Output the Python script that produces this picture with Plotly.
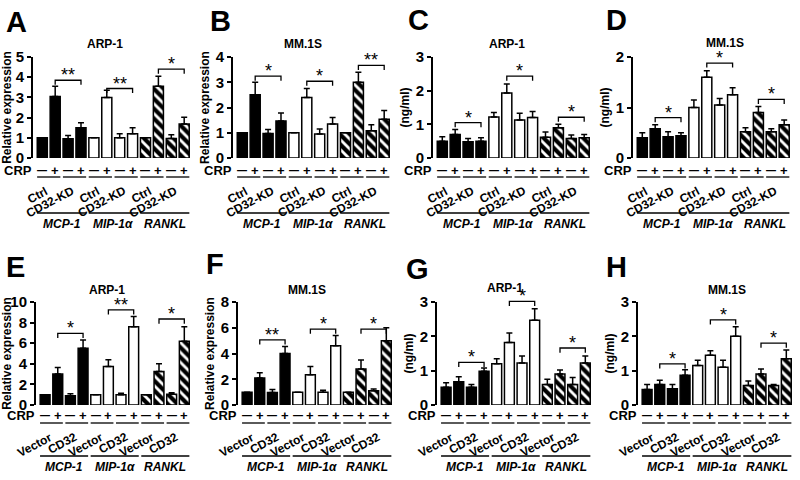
import plotly.graph_objects as go

W, H = 800, 480

genes = ["MCP-1", "MIP-1α", "RANKL"]
crp_signs = ["—", "+", "—", "+"] * 3
top_pairs = ["Ctrl", "CD32-KD"]
bot_pairs = ["Vector", "CD32"]

# ---- data (value per bar, + error) ----
A_vals = [1.0, 3.05, 0.95, 1.5, 1.0, 3.0, 1.0, 1.2, 1.0, 3.55, 0.97, 1.68]
A_errs = [0, 0.5, 0.17, 0.25, 0, 0.35, 0.2, 0.3, 0, 0.5, 0.18, 0.34]
A_sig = ["**", "**", "*"]
A_sigy = [3.85, 3.44, 4.4]

B_vals = [1.0, 2.5, 0.97, 1.47, 1.0, 2.4, 0.95, 1.35, 1.0, 3.0, 1.08, 1.53]
B_errs = [0, 0.5, 0.16, 0.31, 0, 0.35, 0.2, 0.25, 0, 0.4, 0.24, 0.35]
B_sig = ["*", "*", "**"]
B_sigy = [3.24, 3.04, 3.67]

C_vals = [0.5, 0.7, 0.48, 0.5, 1.22, 1.93, 1.13, 1.2, 0.62, 0.9, 0.58, 0.6]
C_errs = [0.13, 0.15, 0.1, 0.1, 0.13, 0.27, 0.2, 0.18, 0.15, 0.1, 0.1, 0.1]
C_sig = ["*", "*", "*"]
C_sigy = [1.05, 2.43, 1.21]

D_vals = [0.4, 0.58, 0.42, 0.44, 1.0, 1.6, 1.05, 1.25, 0.52, 0.9, 0.52, 0.66]
D_errs = [0.1, 0.08, 0.1, 0.06, 0.15, 0.13, 0.13, 0.14, 0.08, 0.12, 0.06, 0.09]
D_sig = ["*", "*", "*"]
D_sigy = [0.8, 1.88, 1.16]

E_vals = [1.0, 3.0, 0.9, 5.5, 1.0, 3.75, 1.0, 7.6, 1.0, 3.25, 1.05, 6.2]
E_errs = [0, 0.65, 0.2, 0.8, 0, 0.65, 0.15, 1.0, 0, 0.75, 0.15, 1.4]
E_sig = ["*", "**", "*"]
E_sigy = [6.96, 9.24, 8.35]

F_vals = [1.0, 2.1, 0.97, 4.0, 1.0, 2.35, 1.0, 4.6, 1.0, 2.8, 1.1, 5.0]
F_errs = [0, 0.4, 0.23, 0.55, 0, 0.65, 0.15, 0.8, 0, 0.7, 0.15, 1.0]
F_sig = ["**", "*", "*"]
F_sigy = [5.06, 5.9, 5.9]

G_vals = [0.52, 0.68, 0.52, 0.98, 1.2, 1.82, 1.22, 2.47, 0.6, 0.9, 0.6, 1.22]
G_errs = [0.13, 0.14, 0.08, 0.1, 0.15, 0.28, 0.21, 0.33, 0.15, 0.12, 0.2, 0.21]
G_sig = ["*", "*", "*"]
G_sigy = [1.24, 3.02, 1.66]

H_vals = [0.45, 0.6, 0.47, 0.87, 1.15, 1.45, 1.1, 2.0, 0.57, 0.9, 0.57, 1.35]
H_errs = [0.15, 0.12, 0.13, 0.16, 0.15, 0.13, 0.2, 0.28, 0.13, 0.15, 0.03, 0.25]
H_sig = ["*", "*", "*"]
H_sigy = [1.2, 2.48, 1.8]

panels = [
    dict(letter="A", title="ARP-1", ytitle="Relative expression", ymax=5, dtick=1,
         vals=A_vals, errs=A_errs, sig=A_sig, sigy=A_sigy, row=0,
         xpx=(33, 190), letpx=(16, 22), titpx=(105, 44)),
    dict(letter="B", title="MM.1S", ytitle="Relative expression", ymax=4, dtick=1,
         vals=B_vals, errs=B_errs, sig=B_sig, sigy=B_sigy, row=0,
         xpx=(233, 390), letpx=(220, 21), titpx=(303, 44)),
    dict(letter="C", title="ARP-1", ytitle="(ng/ml)", ymax=3, dtick=1,
         vals=C_vals, errs=C_errs, sig=C_sig, sigy=C_sigy, row=0,
         xpx=(433, 590), letpx=(418, 20), titpx=(507, 44)),
    dict(letter="D", title="MM.1S", ytitle="(ng/ml)", ymax=2, dtick=1,
         vals=D_vals, errs=D_errs, sig=D_sig, sigy=D_sigy, row=0,
         xpx=(633, 790), letpx=(616, 20), titpx=(725, 43)),
    dict(letter="E", title="ARP-1", ytitle="Relative expression", ymax=10, dtick=2,
         vals=E_vals, errs=E_errs, sig=E_sig, sigy=E_sigy, row=1,
         xpx=(36, 190), letpx=(15, 267), titpx=(107, 290)),
    dict(letter="F", title="MM.1S", ytitle="Relative expression", ymax=8, dtick=2,
         vals=F_vals, errs=F_errs, sig=F_sig, sigy=F_sigy, row=1,
         xpx=(238, 392), letpx=(215, 264), titpx=(307, 290)),
    dict(letter="G", title="ARP-1", ytitle="(ng/ml)", ymax=3, dtick=1,
         vals=G_vals, errs=G_errs, sig=G_sig, sigy=G_sigy, row=1,
         xpx=(437, 591), letpx=(417, 269), titpx=(505, 288)),
    dict(letter="H", title="MM.1S", ytitle="(ng/ml)", ymax=3, dtick=1,
         vals=H_vals, errs=H_errs, sig=H_sig, sigy=H_sigy, row=1,
         xpx=(638, 792), letpx=(616, 267), titpx=(727, 290)),
]

rows = [
    dict(ytop=57, ybot=158, crp=170, pair=177, lab=181, gline=213, glab=224,
         pairs=top_pairs, labdx=0.85),
    dict(ytop=302, ybot=405, crp=415, pair=423, lab=427, gline=456, glab=467,
         pairs=bot_pairs, labdx=0.95),
]

FONT = "Liberation Sans, Arial, sans-serif"

def px(x):
    return x / W

def py(y):
    return 1 - y / H

fig = go.Figure()
annotations = []
shapes = []
layout_axes = {}

for k, p in enumerate(panels):
    n = k + 1
    xa = "x" if n == 1 else f"x{n}"
    ya = "y" if n == 1 else f"y{n}"
    r = rows[p["row"]]
    y0p, y1p = py(r["ybot"]), py(r["ytop"])

    def ypaper(v, p=p, y0p=y0p, y1p=y1p):
        return y0p + (v / p["ymax"]) * (y1p - y0p)

    xs = list(range(12))
    for g in range(3):
        idx = slice(4 * g, 4 * g + 4)
        if g == 0:
            marker = dict(color="black", line=dict(color="black", width=1.5))
        elif g == 1:
            marker = dict(color="white", line=dict(color="black", width=1.5))
        else:
            marker = dict(color="white", line=dict(color="black", width=1.5),
                          pattern=dict(shape="\\", fgcolor="black", bgcolor="white",
                                       fgopacity=1, size=7, solidity=0.6))
        fig.add_trace(go.Bar(
            x=xs[idx], y=p["vals"][idx], width=0.78, marker=marker,
            error_y=dict(type="data", symmetric=False, array=p["errs"][idx],
                         arrayminus=[0] * 4, color="black", thickness=1.5, width=3),
            xaxis=xa, yaxis=ya, showlegend=False, hoverinfo="skip"))

    layout_axes["xaxis" if n == 1 else f"xaxis{n}"] = dict(
        domain=[px(p["xpx"][0]), px(p["xpx"][1])], range=[-0.72, 11.45],
        visible=False, anchor=ya, automargin=False)
    layout_axes["yaxis" if n == 1 else f"yaxis{n}"] = dict(
        domain=[y0p, y1p], range=[0, p["ymax"]], dtick=p["dtick"], automargin=False,
        anchor=xa, showline=True, linecolor="black", linewidth=2, ticks="outside",
        ticklen=4, tickwidth=2, tickcolor="black", showgrid=False, zeroline=False,
        tickfont=dict(family=FONT, size=15, color="black", weight="bold"),
        title=dict(text=p["ytitle"], standoff=3,
                   font=dict(family=FONT, size=12, color="black", weight="bold")))

    # significance brackets
    d = 0.045 * p["ymax"]
    for g in range(3):
        x1, x2 = 4 * g + 1, 4 * g + 3
        y = p["sigy"][g]
        ya_p, yb_p = ypaper(y), ypaper(y - d)
        shapes.append(dict(type="path", xref=xa, yref="paper",
                           path=f"M {x1},{yb_p} L {x1},{ya_p} L {x2},{ya_p} L {x2},{yb_p}",
                           line=dict(color="black", width=1.3)))
        annotations.append(dict(x=4 * g + 2, y=ya_p, xref=xa, yref="paper", text=p["sig"][g],
                                showarrow=False, yanchor="bottom", yshift=-7,
                                font=dict(family=FONT, size=18, color="black")))

    # CRP row
    annotations.append(dict(x=px(p["xpx"][0]) + 0.001, y=py(r["crp"]), xref="paper", yref="paper",
                            text="CRP", showarrow=False, xanchor="right", yanchor="middle",
                            font=dict(family=FONT, size=13, color="black", weight="bold")))
    for i in range(12):
        annotations.append(dict(x=i, y=py(r["crp"]), xref=xa, yref="paper",
                                text=crp_signs[i], showarrow=False, yanchor="middle",
                                font=dict(family=FONT, size=13 if crp_signs[i] == "+" else 10,
                                          color="black", weight="bold")))
    # pair lines and labels
    for j in range(6):
        a = 2 * j
        shapes.append(dict(type="line", xref=xa, yref="paper", x0=a - 0.4, x1=a + 1.4,
                           y0=py(r["pair"]), y1=py(r["pair"]),
                           line=dict(color="black", width=1.3)))
        annotations.append(dict(x=a + r["labdx"], y=py(r["lab"]), xref=xa, yref="paper",
                                text=r["pairs"][j % 2], showarrow=False, textangle=-28,
                                xanchor="right", yanchor="top",
                                font=dict(family=FONT, size=12, color="black", weight="bold")))
    # gene lines and labels
    for g in range(3):
        shapes.append(dict(type="line", xref=xa, yref="paper", x0=4 * g - 0.4, x1=4 * g + 3.4,
                           y0=py(r["gline"]), y1=py(r["gline"]),
                           line=dict(color="black", width=1.3)))
        annotations.append(dict(x=4 * g + 1.5, y=py(r["glab"]), xref=xa, yref="paper",
                                text=genes[g], showarrow=False, yanchor="middle",
                                font=dict(family=FONT, size=12, color="black",
                                          weight="bold", style="italic")))
    # panel letter and title
    annotations.append(dict(x=px(p["letpx"][0]), y=py(p["letpx"][1]), xref="paper", yref="paper",
                            text=p["letter"], showarrow=False, xanchor="center", yanchor="middle",
                            font=dict(family=FONT, size=29, color="black", weight="bold")))
    annotations.append(dict(x=px(p["titpx"][0]), y=py(p["titpx"][1]), xref="paper", yref="paper",
                            text=p["title"], showarrow=False, xanchor="center", yanchor="middle",
                            font=dict(family=FONT, size=12, color="black", weight="bold")))

fig.update_layout(
    width=W, height=H, margin=dict(l=0, r=0, t=0, b=0),
    paper_bgcolor="white", plot_bgcolor="white", barmode="overlay",
    annotations=annotations, shapes=shapes, **layout_axes)

fig.write_html("out.html", config={"displayModeBar": False},
               post_script="document.body.style.margin='0';"
                           "document.body.style.overflow='hidden';")
